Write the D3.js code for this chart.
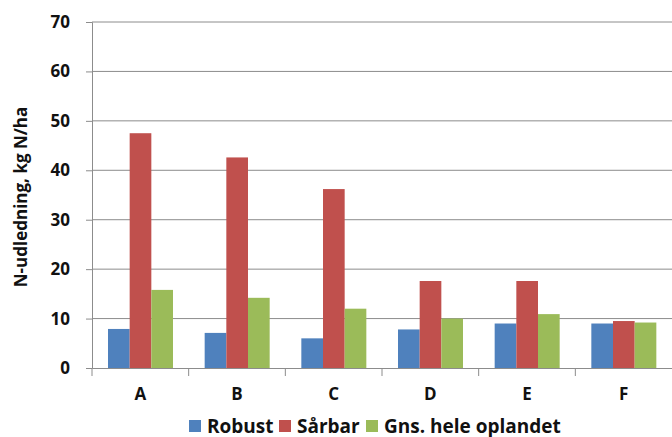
<!DOCTYPE html>
<html lang="da">
<head>
<meta charset="UTF-8">
<title>N-udledning</title>
<script src="https://d3js.org/d3.v7.min.js"></script>
<style>
  body { margin: 0; background: #fff; }
  text { font-family: "Open Sans", Lato, sans-serif; }
</style>
</head>
<body>
<script>
  // data
  const categories = ['A', 'B', 'C', 'D', 'E', 'F'];
  const seriesNames = ['Robust', 'Sårbar', 'Gns. hele oplandet'];
  const robust = [7.9, 7.1, 6.0, 7.8, 9.0, 9.0];
  const saarbar = [47.5, 42.6, 36.2, 17.6, 17.6, 9.5];
  const gns = [15.8, 14.2, 12.0, 10.0, 10.9, 9.2];
  const yTicks = [0, 10, 20, 30, 40, 50, 60, 70];
  const colors = ['#4F81BD', '#C0504D', '#9BBB59'];

  const width = 672, height = 437;
  const margin = { top: 22, right: 0, bottom: 69, left: 92 };
  const innerW = width - margin.left - margin.right;
  const innerH = height - margin.top - margin.bottom;

  const svg = d3.select('body').append('svg')
    .attr('width', width)
    .attr('height', height);

  const g = svg.append('g')
    .attr('transform', `translate(${margin.left},${margin.top})`);

  const x = d3.scaleBand().domain(categories).range([0, innerW]).paddingInner(0).paddingOuter(0);
  const xSub = d3.scaleBand().domain(seriesNames).range([16, 16 + 65]);
  const y = d3.scaleLinear().domain([0, 70]).range([innerH, 0]);

  // gridlines
  g.append('g').selectAll('line')
    .data(yTicks.filter(d => d > 0))
    .enter().append('line')
    .attr('x1', 0).attr('x2', innerW)
    .attr('y1', d => y(d)).attr('y2', d => y(d))
    .attr('stroke', '#8c8c8c').attr('stroke-width', 1);

  // bars
  const rows = categories.map((c, i) => ({ cat: c, vals: [robust[i], saarbar[i], gns[i]] }));
  const grp = g.selectAll('.grp').data(rows).enter().append('g')
    .attr('transform', d => `translate(${x(d.cat)},0)`);
  grp.selectAll('rect')
    .data(d => d.vals.map((v, k) => ({ name: seriesNames[k], v, k })))
    .enter().append('rect')
    .attr('x', d => xSub(d.name))
    .attr('width', xSub.bandwidth())
    .attr('y', d => y(d.v))
    .attr('height', d => innerH - y(d.v))
    .attr('fill', d => colors[d.k]);

  // y axis
  const yAxis = g.append('g')
    .call(d3.axisLeft(y).tickValues(yTicks).tickSize(6).tickPadding(16));
  yAxis.select('.domain').attr('stroke', '#8c8c8c');
  yAxis.selectAll('.tick line').attr('stroke', '#8c8c8c');
  yAxis.selectAll('.tick text')
    .attr('font-size', 17).attr('font-weight', 'bold').attr('fill', '#111');

  // x axis
  const xAxis = g.append('g')
    .attr('transform', `translate(0,${innerH})`)
    .call(d3.axisBottom(x).tickSize(0).tickPadding(20));
  xAxis.select('.domain').attr('stroke', '#8c8c8c');
  xAxis.selectAll('.tick text')
    .attr('font-size', 17).attr('font-weight', 'bold').attr('fill', '#111');
  // category separators
  g.append('g').selectAll('line')
    .data(categories)
    .enter().append('line')
    .attr('x1', d => x(d)).attr('x2', d => x(d))
    .attr('y1', innerH).attr('y2', innerH + 8)
    .attr('stroke', '#8c8c8c');

  // y label
  svg.append('text')
    .attr('transform', `translate(27,${margin.top + innerH / 2 + 2}) rotate(-90)`)
    .attr('text-anchor', 'middle')
    .attr('font-size', 17).attr('font-weight', 'bold').attr('fill', '#111')
    .text('N-udledning, kg N/ha');

  // legend
  const legX = [189, 279, 366];
  const leg = svg.append('g').selectAll('g')
    .data(seriesNames).enter().append('g')
    .attr('transform', (d, i) => `translate(${legX[i]},420)`);
  leg.append('rect').attr('width', 12).attr('height', 12).attr('fill', (d, i) => colors[i]);
  leg.append('text')
    .attr('x', 18).attr('y', 12.5)
    .attr('font-size', 19).attr('font-weight', 'bold').attr('fill', '#111')
    .text(d => d);
</script>
</body>
</html>
